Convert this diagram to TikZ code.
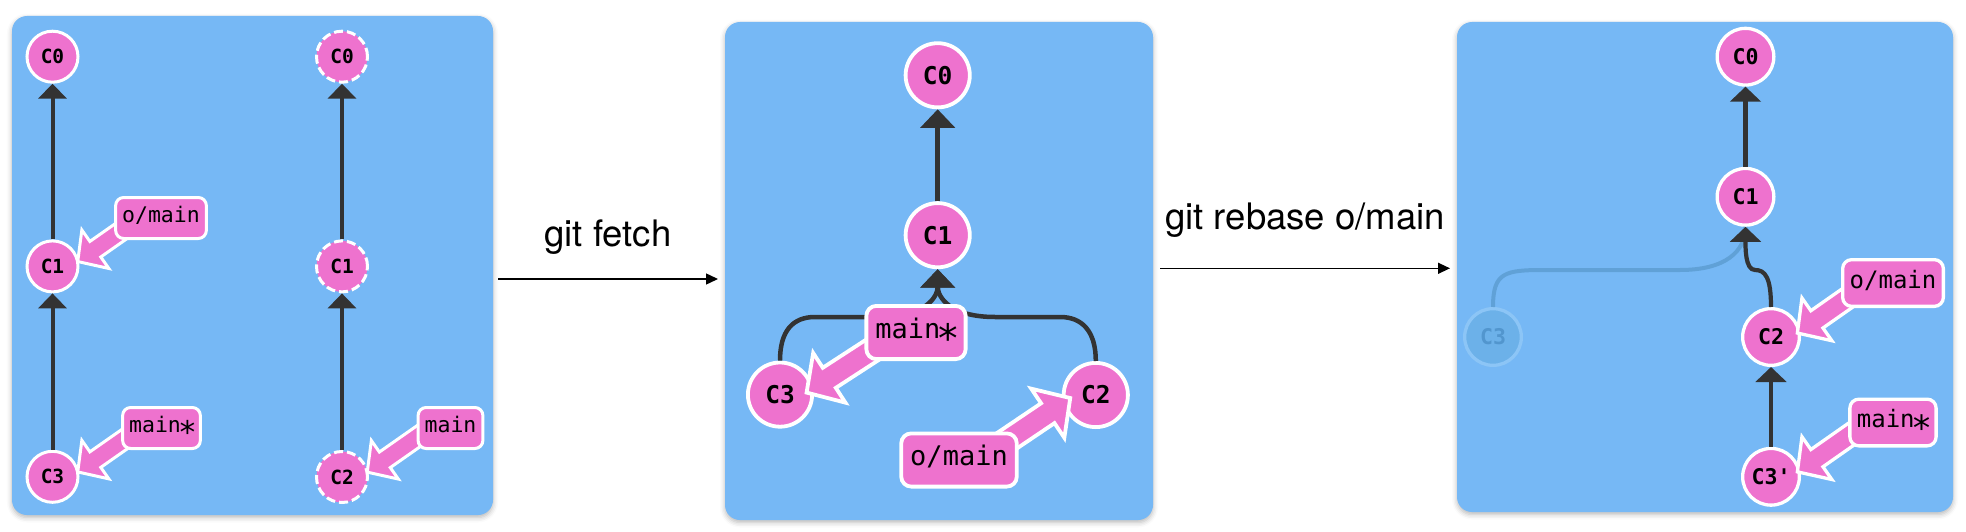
\documentclass[tikz,border=0pt]{standalone}
\usepackage{graphicx}
\usepackage{fontspec}
\setmonofont{DejaVu Sans Mono}
\newfontfamily\cmdfont{TeX Gyre Heros}
\usetikzlibrary{arrows.meta,calc,shadows.blur}

\definecolor{panelblue}{RGB}{118,184,245}
\definecolor{cpink}{RGB}{238,114,206}
\definecolor{edgedark}{RGB}{51,51,51}
\definecolor{fadefill}{RGB}{108,177,233}
\definecolor{fadedraw}{RGB}{140,197,246}
\definecolor{fadetext}{RGB}{82,150,206}
\definecolor{fadeedge}{RGB}{96,161,215}

\newcommand\bigast{\makebox[0.602em]{\raisebox{-0.52em}{\scalebox{1.45}{*}}}}

\tikzset{
  panel/.style={fill=panelblue, rounded corners=15pt,
    blur shadow={shadow xshift=0pt, shadow yshift=-2.5pt, shadow blur radius=5pt, shadow opacity=28}},
  commitA/.style={circle, fill=cpink, draw=white, line width=3pt, inner sep=0pt,
    minimum size=51pt, text height=14.2pt, text depth=0pt,
    font=\ttfamily\bfseries\fontsize{19.5}{20}\selectfont},
  ghostA/.style={commitA, dash pattern=on 9pt off 4pt},
  commitB/.style={circle, fill=cpink, draw=white, line width=3.8pt, inner sep=0pt,
    minimum size=64.2pt, text height=17.9pt, text depth=0pt,
    font=\ttfamily\bfseries\fontsize{24.5}{25}\selectfont},
  commitC/.style={circle, fill=cpink, draw=white, line width=3.3pt, inner sep=0pt,
    minimum size=56.7pt, text height=15.8pt, text depth=0pt,
    font=\ttfamily\bfseries\fontsize{21.6}{22}\selectfont},
  fadedC/.style={commitC, fill=fadefill, draw=fadedraw, text=fadetext},
  labelA/.style={rectangle, rounded corners=8pt, fill=cpink, draw=white, line width=3pt,
    inner xsep=6.5pt, inner ysep=0pt, minimum height=41pt, text height=15pt, text depth=6pt,
    font=\ttfamily\fontsize{21.5}{22}\selectfont},
  labelB/.style={rectangle, rounded corners=10pt, fill=cpink, draw=white, line width=3.8pt,
    inner xsep=9pt, inner ysep=0pt, minimum height=53.2pt, text height=18.9pt, text depth=7.6pt,
    font=\ttfamily\fontsize{27}{28}\selectfont},
  labelC/.style={rectangle, rounded corners=9pt, fill=cpink, draw=white, line width=3.3pt,
    inner xsep=7pt, inner ysep=0pt, minimum height=46.7pt, text height=16.8pt, text depth=6.7pt,
    font=\ttfamily\fontsize{24}{25}\selectfont},
  edgeA/.style={draw=edgedark, line width=4pt, -{Triangle[length=15pt,width=28pt]}},
  edgeB/.style={draw=edgedark, line width=4.5pt, -{Triangle[length=18.5pt,width=34pt]}},
  edgeC/.style={draw=edgedark, line width=4.2pt, -{Triangle[length=15pt,width=30.5pt]}},
  fadeline/.style={draw=fadeedge, line width=4pt},
  brarrowstyle/.style={fill=cpink, draw=white, line join=miter},
  flow/.style={draw=black, line width=1.4pt, -{Triangle[length=12pt,width=11pt]}},
  flowtext/.style={font=\cmdfont\fontsize{36.5}{40}\selectfont, anchor=base, inner sep=0pt},
}

% #1 commit node, #2 tip offset, #3 angle, #4 scale, #5 stroke width
\newcommand\brarrow[5]{%
  \begin{scope}[shift={($(#1.center)+(#2)$)}, rotate=#3, scale=#4]
    \draw[brarrowstyle, line width=#5] (1.5,0) -- (23,23.5) -- (23,9.5) -- (75,9.5)
      -- (75,-9.5) -- (23,-9.5) -- (23,-23.5) -- cycle;
  \end{scope}}

\begin{document}
\begin{tikzpicture}[x=1pt, y=-1pt]
\useasboundingbox (0,0) rectangle (1966,532);

% panels
\fill[panel] (12,16) rectangle (493,515);
\fill[panel] (725,22) rectangle (1153,520);
\fill[panel] (1457,22) rectangle (1953,512);

% ---------- panel 1 ----------
\node[commitA] (a0) at (52.5,56.7) {C0};
\node[commitA] (a1) at (52.5,266.4) {C1};
\node[commitA] (a3) at (52.5,476.8) {C3};
\node[ghostA] (b0) at (342,56.7) {C0};
\node[ghostA] (b1) at (342,266.4) {C1};
\node[ghostA] (b2) at (342,477) {C2};
\draw[edgeA] (a1) -- (a0);
\draw[edgeA] (a3) -- (a1);
\draw[edgeA] (b1) -- (b0);
\draw[edgeA] (b2) -- (b1);
\brarrow{a1}{24,-4}{35}{1}{3pt}
\brarrow{a3}{24,-4}{35}{1}{3pt}
\brarrow{b2}{24,-4}{35}{1}{3pt}
\node[labelA] (la1) at (161,218) {o/main};
\node[labelA] (la3) at (161.5,428) {main\bigast};
\node[labelA] (lb2) at (450.5,428) {main};

% ---------- arrows between panels ----------
\coordinate (fetchS) at (498,279);
\coordinate (fetchE) at (718,279);
\draw[flow] (fetchS) -- (fetchE) node[flowtext, pos=0.5, yshift=32.3pt] (fetchT) {git fetch};
\coordinate (rebS) at (1160,268.3);
\coordinate (rebE) at (1450,268.3);
\draw[flow] (rebS) -- (rebE) node[flowtext, pos=0.5, yshift=39pt] (rebT) {git rebase o/main};

% ---------- panel 2 ----------
\node[commitB] (c0) at (937.7,75.3) {C0};
\node[commitB] (c1) at (937.7,235.2) {C1};
\node[commitB] (c3) at (780,394.6) {C3};
\node[commitB] (c2) at (1095.8,395) {C2};
\draw[edgeB] (c1) -- (c0);
\draw[edgeB] (c3.north) .. controls +(0,-30) and +(-22,0) .. (815,317) -- (880,317)
  .. controls +(45,0) and +(0,28) .. (c1.south);
\draw[edgeB] (c2.north) .. controls +(0,-30) and +(22,0) .. (1060,317) -- (995,317)
  .. controls +(-45,0) and +(0,28) .. (c1.south);
\brarrow{c3}{25,-1}{33}{1.26}{3.8pt}
\brarrow{c2}{-24,2}{214}{1.26}{3.8pt}
\node[labelB] (lc3) at (916,332.5) {main\bigast};
\node[labelB] (lc2) at (959,460) {o/main};

% ---------- panel 3 ----------
\node[fadedC] (d3f) at (1493,337) {C3};
\node[commitC] (d0) at (1745.5,56.7) {C0};
\node[commitC] (d1) at (1745.5,196.8) {C1};
\node[commitC] (d2) at (1771,337) {C2};
\node[commitC] (d3p) at (1771,476.8) {C3'};
\draw[fadeline] (d3f.north) .. controls +(0,-35) and +(-40,0) .. (1545,270) -- (1680,270)
  .. controls +(45,0) and +(0,25) .. (d1.south);
\draw[edgeC] (d1) -- (d0);
\draw[edgeC] (d2.north) .. controls +(0,-30) and +(10,0) .. (1755,270)
  .. controls +(-10,0) and +(0,20) .. (d1.south);
\draw[edgeC] (d3p) -- (d2);
\brarrow{d2}{25,-3}{35}{1.11}{3.3pt}
\brarrow{d3p}{25,-4}{35}{1.11}{3.3pt}
\node[labelC] (ld2) at (1893,283) {o/main};
\node[labelC] (ld3) at (1893,422.5) {main\bigast};
\end{tikzpicture}
\end{document}
